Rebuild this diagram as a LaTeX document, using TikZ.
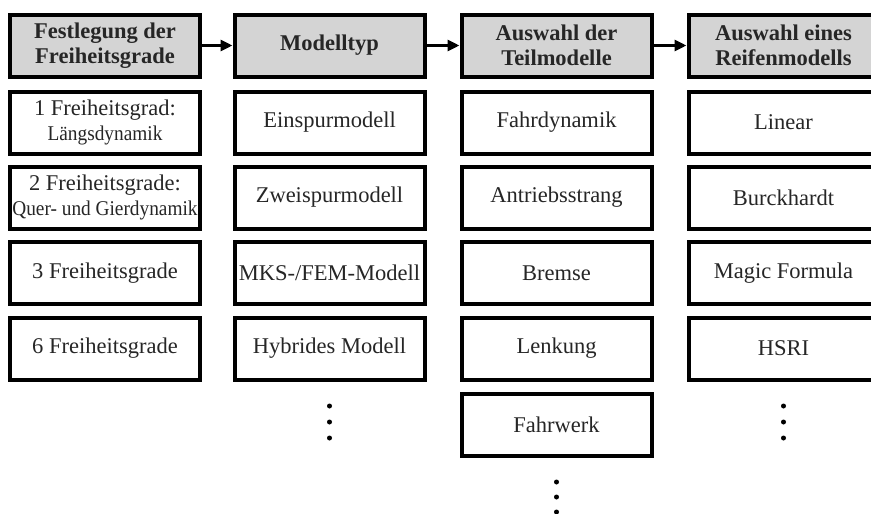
\documentclass[tikz,border=0pt]{standalone}
\usepackage{fontspec}
\setmainfont{Liberation Serif}
\newfontfamily\condserif[FakeStretch=0.92]{Liberation Serif}
\usetikzlibrary{arrows.meta}
\definecolor{headfill}{RGB}{212,212,212}
\definecolor{ink}{RGB}{38,38,38}
\newcommand{\boxfont}{\fontsize{22.5}{25}\selectfont}
\newcommand{\subfont}{\condserif\fontsize{21}{23}\selectfont}
\tikzset{
  box/.style={draw=black, line width=4pt, minimum width=190pt, minimum height=62pt,
    inner sep=0pt, align=center, text=ink, font=\boxfont},
  head/.style={box, fill=headfill, font=\boxfont\bfseries},
  flow/.style={line width=3pt, -{Triangle[length=12pt,width=11pt]}},
  dot/.style={circle, fill=black, inner sep=0pt, minimum size=5pt},
}
\begin{document}
\begin{tikzpicture}[x=1pt, y=-1pt]
\useasboundingbox (0,0) rectangle (871,514);
\fill[white] (0,0) rectangle (871,514);

% header row
\node[head] (h1) at (105,45.5) {Festlegung der\\Freiheitsgrade};
\node[head] (h2) at (329.5,45.5) {Modelltyp};
\node[head] (h3) at (556.5,45.5) {Auswahl der\\Teilmodelle};
\node[head] (h4) at (783.5,45.5) {Auswahl eines\\Reifenmodells};

\draw[flow] (h1.east) -- (h2.west);
\draw[flow] (h2.east) -- (h3.west);
\draw[flow] (h3.east) -- (h4.west);

% degrees of freedom
\node[box] (a1) at (105,122.5) {1 Freiheitsgrad:\\{\subfont Längsdynamik}};
\node[box] (a2) at (105,197.5) {2 Freiheitsgrade:\\{\subfont Quer- und Gierdynamik}};
\node[box] (a3) at (105,273) {3 Freiheitsgrade};
\node[box] (a4) at (105,348.5) {6 Freiheitsgrade};

% model types
\node[box] (b1) at (329.5,122.5) {Einspurmodell};
\node[box] (b2) at (329.5,197.5) {Zweispurmodell};
\node[box] (b3) at (329.5,273) {MKS-/FEM-Modell};
\node[box] (b4) at (329.5,348.5) {Hybrides Modell};
\node[dot] (b5) at (329.5,406) {};
\node[dot] (b6) at (329.5,422) {};
\node[dot] (b7) at (329.5,438) {};

% sub-models
\node[box] (c1) at (556.5,122.5) {Fahrdynamik};
\node[box] (c2) at (556.5,197.5) {Antriebsstrang};
\node[box] (c3) at (556.5,273) {Bremse};
\node[box] (c4) at (556.5,348.5) {Lenkung};
\node[box] (c5) at (556.5,424.5) {Fahrwerk};
\node[dot] (c6) at (556.5,482) {};
\node[dot] (c7) at (556.5,497) {};
\node[dot] (c8) at (556.5,512) {};

% tyre models
\node[box] (d1) at (783.5,122.5) {Linear};
\node[box] (d2) at (783.5,197.5) {Burckhardt};
\node[box] (d3) at (783.5,273) {Magic Formula};
\node[box] (d4) at (783.5,348.5) {HSRI};
\node[dot] (d5) at (783.5,406) {};
\node[dot] (d6) at (783.5,422) {};
\node[dot] (d7) at (783.5,438) {};
\end{tikzpicture}
\end{document}
